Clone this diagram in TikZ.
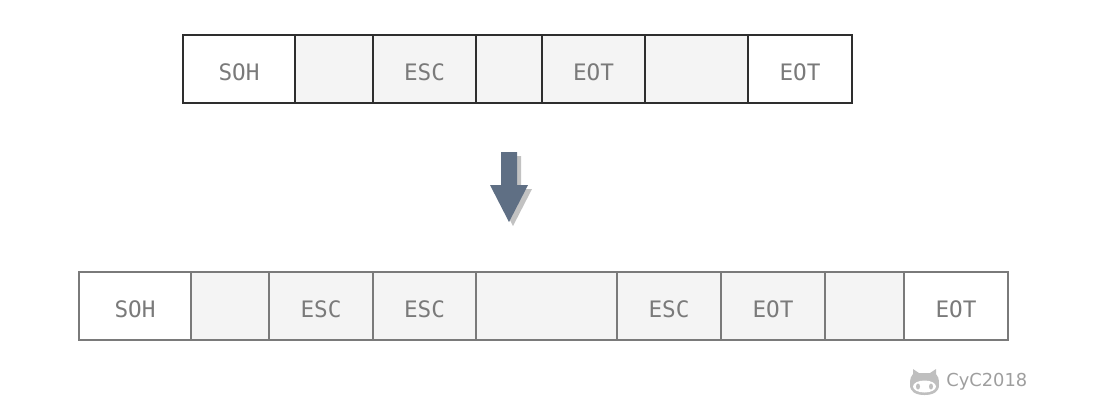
\documentclass[tikz,border=0pt]{standalone}
\usepackage{fontspec}
\setmonofont{DejaVu Sans Mono}
\setsansfont{DejaVu Sans}
\usetikzlibrary{positioning}
\definecolor{cellgray}{HTML}{F4F4F4}
\definecolor{arrowblue}{HTML}{5F6F84}
\definecolor{labelgray}{HTML}{7A7A7A}
\tikzset{
	cell/.style={draw,fill=white,line width=1.1pt,minimum height=51pt,inner sep=0pt,outer sep=0pt,
		text=labelgray,font=\ttfamily\fontsize{17}{17}\selectfont,text height=20.5pt,text depth=3.1pt},
	toprow/.style={cell,draw=black!82},
	botrow/.style={cell,draw=black!52},
	shaded/.style={fill=cellgray},
	mark label/.style={text=black!38,font=\sffamily\fontsize{13.4}{13.4}\selectfont,inner sep=0pt}
}
\begin{document}
\begin{tikzpicture}[x=0.75pt,y=-0.75pt]
	\useasboundingbox (0,0) rectangle (1112,412);
	
	% frame before
	\node[toprow,minimum width=84pt,anchor=north west] (a1) at (183,35) {SOH};
	\node[toprow,shaded,minimum width=58.5pt,right=0pt of a1] (a2) {};
	\node[toprow,shaded,minimum width=77.25pt,right=0pt of a2] (a3) {ESC};
	\node[toprow,shaded,minimum width=49.5pt,right=0pt of a3] (a4) {};
	\node[toprow,shaded,minimum width=77.25pt,right=0pt of a4] (a5) {EOT};
	\node[toprow,shaded,minimum width=77.25pt,right=0pt of a5] (a6) {};
	\node[toprow,minimum width=78pt,right=0pt of a6] (a7) {EOT};
	
	% arrow
	\fill[black!24] (505,156) -- (521,156) -- (521,189) -- (532,189) -- (513,226) -- (494,189) -- (505,189) -- cycle;
	\fill[arrowblue] (501,152) -- (517,152) -- (517,185) -- (528,185) -- (509,222) -- (490,185) -- (501,185) -- cycle;
	
	% frame after
	\node[botrow,minimum width=84pt,anchor=north west] (b1) at (79,272) {SOH};
	\node[botrow,shaded,minimum width=58.5pt,right=0pt of b1] (b2) {};
	\node[botrow,shaded,minimum width=78pt,right=0pt of b2] (b3) {ESC};
	\node[botrow,shaded,minimum width=77.25pt,right=0pt of b3] (b4) {ESC};
	\node[botrow,shaded,minimum width=105.75pt,right=0pt of b4] (b5) {};
	\node[botrow,shaded,minimum width=78pt,right=0pt of b5] (b6) {ESC};
	\node[botrow,shaded,minimum width=78pt,right=0pt of b6] (b7) {EOT};
	\node[botrow,shaded,minimum width=59.25pt,right=0pt of b7] (b8) {};
	\node[botrow,minimum width=78pt,right=0pt of b8] (b9) {EOT};
	
	% watermark
	\fill[black!25] (910,385) .. controls (910,378) and (911,376) .. (913,374) -- (913,369) -- (919,373) -- (930,373) -- (936,369) -- (936,374) .. controls (938,376) and (939,378) .. (939,385) .. controls (939,392) and (933,395) .. (924.5,395) .. controls (916,395) and (910,392) .. (910,385) -- cycle;
	\fill[white] (924.5,386.5) ellipse [x radius=11.5,y radius=6];
	\fill[black!25] (918,386.5) ellipse [x radius=2,y radius=3];
	\fill[black!25] (931,386.5) ellipse [x radius=2,y radius=3];
	\node[mark label,anchor=west] (credit) at (946,382) {CyC2018};
\end{tikzpicture}
\end{document}
